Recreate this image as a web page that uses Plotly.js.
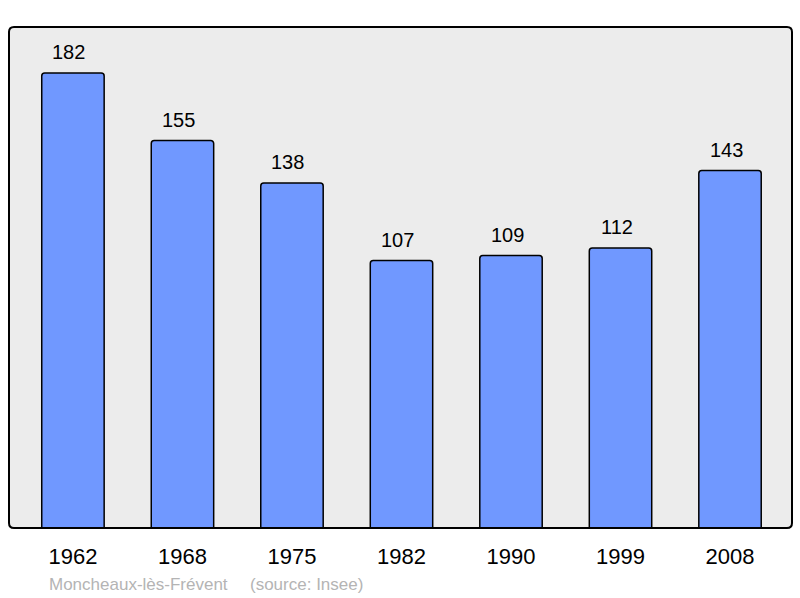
<!DOCTYPE html>
<html>
<head>
<meta charset="utf-8">
<script src="https://cdn.plot.ly/plotly-3.0.1.min.js"></script>
<style>
  html, body { margin: 0; padding: 0; background: #fff; }
  #chart { width: 800px; height: 598px; }
</style>
</head>
<body>
<div id="chart"></div>
<script>
    'use strict';

    // census years and population counts
    var years = ['1962', '1968', '1975', '1982', '1990', '1999', '2008'];
    var population = [182, 155, 138, 107, 109, 112, 143];
    var placeName = 'Moncheaux-lès-Frévent';
    var sourceNote = '(source: Insee)';

    var font = 'Liberation Sans, Arial, sans-serif';

    var bars = {
        type: 'bar',
        x: years,
        y: population,
        width: 0.57,
        marker: {
            color: '#7098ff',
            line: { color: '#000', width: 1.5 },
            cornerradius: 3
        },
        hoverinfo: 'none'
    };

    // value labels above every bar (x given as category index)
    var labels = years.map(function (yr, i) {
        return {
            x: i, y: population[i], xref: 'x', yref: 'y',
            text: String(population[i]),
            showarrow: false, yanchor: 'bottom', yshift: 8, xshift: -4,
            font: { family: font, size: 20, color: '#000' }
        };
    });
    labels.push({
        xref: 'paper', yref: 'paper', x: 38 / 783, y: -56 / 501,
        xanchor: 'left', yanchor: 'middle', showarrow: false,
        text: placeName, font: { family: font, size: 17, color: '#b4b4b4' }
    });
    labels.push({
        xref: 'paper', yref: 'paper', x: 239 / 783, y: -56 / 501,
        xanchor: 'left', yanchor: 'middle', showarrow: false,
        text: sourceNote, font: { family: font, size: 17, color: '#b4b4b4' }
    });

    // rounded frame of the plot area, in paper units
    var rx = 5 / 783, ry = 5 / 501;
    var frame = 'M ' + rx + ' 0 L ' + (1 - rx) + ' 0 Q 1 0 1 ' + ry +
        ' L 1 ' + (1 - ry) + ' Q 1 1 ' + (1 - rx) + ' 1' +
        ' L ' + rx + ' 1 Q 0 1 0 ' + (1 - ry) +
        ' L 0 ' + ry + ' Q 0 0 ' + rx + ' 0 Z';

    var layout = {
        width: 800,
        height: 598,
        margin: { l: 9, r: 8, t: 27, b: 70 },
        paper_bgcolor: '#fff',
        plot_bgcolor: 'rgba(0,0,0,0)',
        showlegend: false,
        xaxis: {
            type: 'category',
            range: [-0.584, 6.566],
            showgrid: false, zeroline: false, showline: false,
            ticks: '', ticklabelstandoff: 13,
            tickfont: { family: font, size: 22, color: '#000' }
        },
        yaxis: {
            range: [0, 200.4],
            showgrid: false, zeroline: false, showline: false,
            showticklabels: false, ticks: ''
        },
        shapes: [
            { type: 'path', xref: 'paper', yref: 'paper', path: frame,
              fillcolor: '#ececec', line: { width: 0 }, layer: 'below' },
            { type: 'path', xref: 'paper', yref: 'paper', path: frame,
              fillcolor: 'rgba(0,0,0,0)', line: { color: '#000', width: 2 }, layer: 'above' }
        ],
        annotations: labels
    };

    Plotly.newPlot('chart', [bars], layout, { displayModeBar: false, staticPlot: true });
</script>
</body>
</html>
